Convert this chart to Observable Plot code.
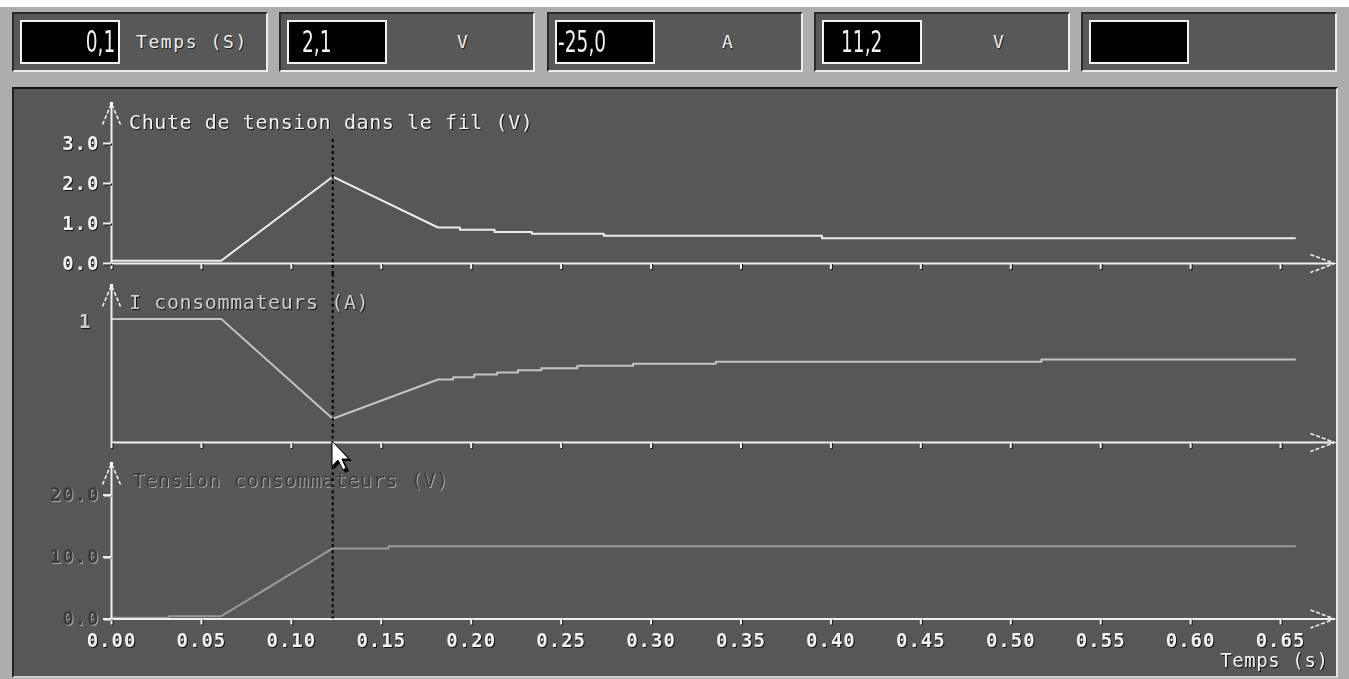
<!DOCTYPE html>
<html>
<head>
<meta charset="utf-8">
<script src="https://cdn.jsdelivr.net/npm/d3@7"></script>
<script src="https://cdn.jsdelivr.net/npm/@observablehq/plot@0.6"></script>
<style>
html,body{margin:0;padding:0}
body{width:1349px;height:679px;overflow:hidden;position:relative;background:#adadad;font-family:"DejaVu Sans Mono",monospace}
.abs{position:absolute}
#white{left:0;top:0;width:1349px;height:7px;background:#fbfbfb}
.box{top:12px;height:60px;width:256px;background:#585858;box-sizing:border-box;border-style:solid;border-width:2px;border-color:#2a2a2a #ececec #ececec #2a2a2a}
.disp{position:absolute;top:6px;left:6px;width:100px;height:44px;background:#000;border:2px solid #f2f2f2;box-sizing:border-box;overflow:hidden}
.val{position:absolute;top:0;color:#f0f0f0;font-family:"DejaVu Sans",sans-serif;font-size:31px;line-height:39px;white-space:nowrap}
.unit{position:absolute;color:#eeeeee;font-size:18px;line-height:20px;top:18px;white-space:nowrap;text-shadow:1px 1px 0 #1a1a1a}
#frame{left:12px;top:87px;width:1326px;height:591px;background:#575757;box-sizing:border-box;border-style:solid;border-width:2px;border-color:#111 #e6e6e6 #d0d0d0 #222}
.panel{position:absolute;left:0;width:1349px}
.lbl1{filter:drop-shadow(1px 1px 0 #151515)}
.lbl1 text{letter-spacing:1px}
.lbl3{filter:drop-shadow(1px 1px 0 #a8a8a8)}
.lbl3 text{letter-spacing:1px}
.ttl1{filter:drop-shadow(1px 1px 0 #151515)}
.ttl1 text{letter-spacing:0.6px}
.ttl3{filter:drop-shadow(1px 1px 0 #a8a8a8)}
.ttl3 text{letter-spacing:0.6px}
</style>
</head>
<body>
<div id="white" class="abs"></div>
<div id="frame" class="abs"></div>
<div id="top"></div>
<div id="panels"></div>
<svg class="abs" style="left:331px;top:440px;z-index:5" width="32" height="36">
  <polygon points="3,3 3,29 9,23 14,33 18,31 13,21 21,21" fill="#000"/>
  <polygon points="1,1 1,26 7,20 12,30 15,28 11,19 18,19" fill="#fff" stroke="#000" stroke-width="1"/>
</svg>
<script>
// ---------- data ----------
const displayValues = ["0,1", "2,1", "-25,0", "11,2", ""];
const displayUnits  = ["Temps (S)", "V", "A", "V", ""];

const xTicks = [0, 0.05, 0.10, 0.15, 0.20, 0.25, 0.30, 0.35, 0.40, 0.45, 0.50, 0.55, 0.60, 0.65];
const cursorT = 0.123;

const chuteTitle = "Chute de tension dans le fil (V)";
const chuteT = [0, 0.061, 0.123, 0.1815, 0.1937, 0.1937, 0.213, 0.213, 0.2337, 0.2337, 0.2737, 0.2737, 0.395, 0.395, 0.658];
const chuteV = [0.07, 0.07, 2.17, 0.9, 0.9, 0.845, 0.845, 0.79, 0.79, 0.745, 0.745, 0.695, 0.695, 0.63, 0.63];
const chuteTicks = [0, 1, 2, 3];

const courantTitle = "I consommateurs (A)";
const courantT = [0, 0.061, 0.123, 0.1816, 0.19, 0.19, 0.2017, 0.2017, 0.2144, 0.2144, 0.226, 0.226, 0.239, 0.239, 0.259, 0.259, 0.29, 0.29, 0.336, 0.336, 0.517, 0.517, 0.658];
const courantV = [1, 1, 0.192, 0.51, 0.51, 0.528, 0.528, 0.55, 0.55, 0.566, 0.566, 0.585, 0.585, 0.601, 0.601, 0.621, 0.621, 0.637, 0.637, 0.653, 0.653, 0.672, 0.672];
const courantTicks = [1];

const tensionTitle = "Tension consommateurs (V)";
const tensionT = [0, 0.032, 0.032, 0.061, 0.123, 0.154, 0.154, 0.658];
const tensionV = [0.2, 0.2, 0.45, 0.45, 11.4, 11.4, 11.75, 11.75];
const tensionTicks = [0, 10, 20];

const xLabel = "Temps (s)";

// ---------- top toolbar ----------
const boxLefts = [12, 279, 547, 814, 1081];
const valPos = [{right: 3}, {left: 13}, {left: 1}, {left: 17}, {left: 5}];
const unitLeft = [122, 176, 173, 177, 170];
const topDiv = d3.select("#top");
displayValues.forEach((v, i) => {
  const b = topDiv.append("div").attr("class", "abs box").style("left", boxLefts[i] + "px");
  const d = b.append("div").attr("class", "disp");
  const s = d.append("div").attr("class", "val").text(v);
  const p = valPos[i];
  if (p.right !== undefined) s.style("right", p.right + "px").style("transform", "scaleX(0.6)").style("transform-origin", "right center");
  else s.style("left", p.left + "px").style("transform", "scaleX(0.6)").style("transform-origin", "left center");
  b.append("div").attr("class", "unit").style("left", unitLeft[i] + "px")
    .style("letter-spacing", i === 0 ? "1.6px" : "0").text(displayUnits[i]);
});

// ---------- panels ----------
const axisColor = "#f0f0f0";
const arrowRight = {draw(ctx, size) { const r = Math.sqrt(size / Math.PI); ctx.moveTo(-2.4 * r, -0.9 * r); ctx.lineTo(0, 0); ctx.lineTo(-2.4 * r, 0.9 * r); }};
const arrowUp = {draw(ctx, size) { const r = Math.sqrt(size / Math.PI); ctx.moveTo(-0.9 * r, 2.1 * r); ctx.lineTo(0, 0); ctx.lineTo(0.9 * r, 2.1 * r); }};

function makePanel(c) {
  const data = c.t.map((t, i) => ({t, v: c.v[i]}));
  const marks = [
    Plot.line(data, {x: "t", y: "v", stroke: c.color, strokeWidth: 2}),
    Plot.ruleY([0], {stroke: axisColor, strokeWidth: 2}),
    Plot.ruleX([0], {y1: 0, y2: c.domain[1], stroke: axisColor, strokeWidth: 2}),
    Plot.dot([0], {x: 0.68, y: 0, symbol: arrowRight, r: 10, fill: "none", stroke: axisColor, strokeWidth: 1.6, strokeDasharray: "4,2"}),
    Plot.dot([0], {x: 0, y: c.domain[1], symbol: arrowUp, r: 10, fill: "none", stroke: axisColor, strokeWidth: 1.6, strokeDasharray: "4,2"}),
    Plot.dot([0], {x: 0, y: c.domain[1], r: 1.8, fill: "#fff", stroke: "none"}),
    Plot.axisX({ticks: xTicks, tickSize: 6, tickPadding: 8, label: null,
      tickFormat: c.xLabels ? d3.format(".2f") : () => "",
      stroke: axisColor, strokeWidth: 2, fill: "#f2f2f2", fontWeight: "bold", fontSize: 19, className: "lbl1"}),
    Plot.axisY({ticks: c.ticks, tickFormat: c.fmt, tickSize: c.tickSize, tickPadding: c.tickPad, label: null,
      stroke: axisColor, strokeWidth: 2, fill: c.textFill, fontWeight: "bold", fontSize: 19, dy: c.tickDy || 0, className: c.cls}),
    Plot.text([c.title], {frameAnchor: "top-left", dx: c.titleDx, dy: c.titleDy, textAnchor: "start", lineAnchor: "middle",
      fill: c.textFill, fontSize: 20, fontWeight: "normal", className: c.tcls}),
    Plot.ruleX([cursorT], {y1: c.ruleY1, y2: c.ruleY2, stroke: "#000", strokeWidth: 2, strokeDasharray: "3,3"})
  ];
  if (c.xLabels) {
    marks.push(Plot.text([xLabel], {frameAnchor: "bottom-right", dx: -6, dy: 41.5, textAnchor: "end", lineAnchor: "middle",
      fill: "#f2f2f2", fontSize: 19, fontWeight: "normal", className: "ttl1"}));
  }
  const svg = Plot.plot({
    width: 1349, height: c.height,
    marginLeft: 111, marginRight: 15, marginTop: c.mt, marginBottom: c.mb,
    x: {domain: [0, 0.68]},
    y: {domain: c.domain},
    style: {background: "transparent", color: axisColor, fontFamily: "'DejaVu Sans Mono', monospace", fontSize: "19px", overflow: "visible"},
    marks
  });
  const wrap = d3.select("#panels").append("div").attr("class", "panel").style("top", c.top + "px");
  wrap.node().appendChild(svg);
}

makePanel({top: 90, height: 185, mt: 13, mb: 12, domain: [0, 4], ticks: chuteTicks, fmt: d3.format(".1f"),
  tickSize: 8, tickPad: 4, t: chuteT, v: chuteV, color: "#ececec", title: chuteTitle, titleDx: 17.5, titleDy: 19,
  textFill: "#f2f2f2", cls: "lbl1", tcls: "ttl1", ruleY1: 3.1, ruleY2: -0.3, xLabels: false});

makePanel({top: 275, height: 180, mt: 10, mb: 13, domain: [0, 1.27], ticks: courantTicks, fmt: d3.format("d"),
  tickSize: 0, tickPad: 20, tickDy: 3, t: courantT, v: courantV, color: "#c4c4c4", title: courantTitle, titleDx: 17.5, titleDy: 16.7,
  textFill: "#cdcdcd", cls: "lbl1", tcls: "ttl1", ruleY1: 1.36, ruleY2: -0.11, xLabels: false});

makePanel({top: 455, height: 224, mt: 8, mb: 60.5, domain: [0, 25.1], ticks: tensionTicks, fmt: d3.format(".1f"),
  tickSize: 8, tickPad: 4, t: tensionT, v: tensionV, color: "#9a9a9a", title: tensionTitle, titleDx: 21, titleDy: 17,
  textFill: "#3c3c3c", cls: "lbl3", tcls: "ttl3", ruleY1: 26.5, ruleY2: 0, xLabels: true});
</script>
</body>
</html>
